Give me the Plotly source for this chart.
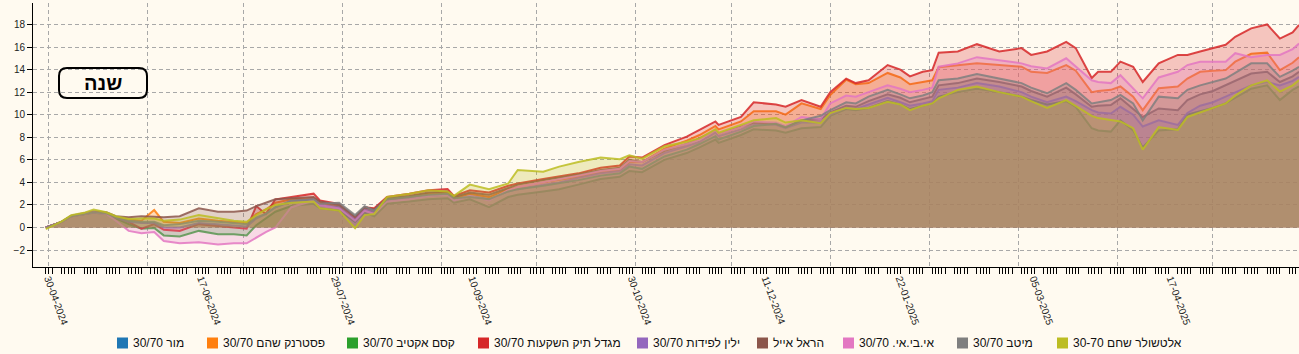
import pandas as pd
import plotly.graph_objects as go

dates = ["2024-04-30","2024-05-05","2024-05-08","2024-05-12","2024-05-15","2024-05-19","2024-05-22","2024-05-26","2024-05-30","2024-06-03",
"2024-06-06","2024-06-11","2024-06-17","2024-06-23","2024-06-28","2024-07-02","2024-07-05","2024-07-08","2024-07-11","2024-07-16",
"2024-07-23","2024-07-25","2024-07-31","2024-08-05","2024-08-08","2024-08-11","2024-08-15","2024-08-22","2024-08-28","2024-09-03",
"2024-09-05","2024-09-10","2024-09-16","2024-09-22","2024-09-25","2024-10-03","2024-10-08","2024-10-14","2024-10-21","2024-10-27",
"2024-10-30","2024-11-03","2024-11-10","2024-11-17","2024-11-21","2024-11-26","2024-11-27","2024-12-04","2024-12-08","2024-12-15",
"2024-12-18","2024-12-23","2024-12-29","2025-01-01","2025-01-06","2025-01-09","2025-01-13","2025-01-19","2025-01-23","2025-01-26",
"2025-01-30","2025-02-02","2025-02-04","2025-02-10","2025-02-16","2025-02-23","2025-03-02","2025-03-05","2025-03-10","2025-03-16",
"2025-03-19","2025-03-24","2025-03-26","2025-03-30","2025-04-02","2025-04-06","2025-04-09","2025-04-14","2025-04-20","2025-04-23",
"2025-04-27","2025-05-01","2025-05-05","2025-05-08","2025-05-13","2025-05-18","2025-05-22","2025-05-26","2025-05-28"]

pasternak = [0,0.5,1.0,1.2,1.35,1.25,0.95,0.7,0.6,1.55,
0.5,0.4,0.8,0.6,0.5,0.4,1.2,1.6,2.2,2.5,
2.6,2.2,1.9,0.8,1.7,1.4,2.5,2.8,3.0,3.1,
2.6,3.0,2.7,3.4,3.6,4.0,4.2,4.5,4.9,5.1,
5.8,5.8,7.0,7.7,8.2,9.0,8.7,9.4,10.3,10.3,
10.0,11.0,10.5,11.75,13.1,12.7,12.8,13.7,13.3,12.7,
12.9,13.05,14.2,14.4,14.55,14.4,14.25,13.8,13.7,14.4,
13.9,12.0,12.1,12.2,12.5,11.6,10.4,12.35,12.5,13.2,
13.8,13.9,13.95,14.7,15.4,15.5,13.95,14.6,15.1]

kesem = [0,0.5,1.0,1.15,1.3,1.2,0.8,0.3,-0.1,-0.05,
-0.7,-0.8,-0.3,-0.6,-0.6,-0.7,0.2,0.8,1.4,1.9,
2.1,1.7,1.5,0.5,1.3,1.0,2.1,2.3,2.5,2.6,
2.2,2.5,1.8,2.7,2.9,3.2,3.4,3.8,4.3,4.5,
5.0,4.9,6.0,6.6,7.1,7.8,7.5,8.2,8.7,8.6,
8.4,8.8,8.9,9.9,10.5,10.4,10.6,11.2,10.9,10.5,
10.8,11.0,11.6,12.0,12.3,12.0,11.6,11.3,10.9,11.2,
10.7,8.8,8.6,8.5,9.5,8.6,7.1,8.6,8.7,10.0,
10.3,10.6,11.0,11.5,12.3,12.6,11.3,12.2,12.5]

migdal = [0,0.5,1.0,1.2,1.35,1.25,0.9,0.5,-0.1,0.3,
-0.2,-0.3,0.3,0.1,0.0,-0.1,1.9,1.2,2.5,2.7,
3.0,2.4,2.1,0.9,1.8,1.7,2.7,3.0,3.3,3.4,
2.8,3.3,3.1,3.7,3.9,4.3,4.5,4.8,5.3,5.5,
6.3,6.2,7.3,8.05,8.65,9.4,9.1,9.8,11.1,10.9,
10.7,11.3,10.7,12.0,13.2,12.8,13.05,14.4,14.0,13.4,
13.8,13.95,15.5,15.6,16.25,15.6,15.9,15.3,15.6,16.45,
15.9,13.25,13.8,13.8,14.7,14.25,12.9,14.55,15.3,15.3,
15.6,15.9,16.2,16.9,17.65,18.0,16.75,17.3,17.95]

yelin = [0,0.5,1.0,1.2,1.35,1.2,0.85,0.5,0.4,0.4,
0.0,0.0,0.4,0.3,0.2,0.1,0.8,1.2,1.8,2.3,
2.5,2.0,1.8,0.7,1.6,1.4,2.4,2.6,2.8,2.9,
2.4,2.8,2.5,3.2,3.4,3.8,4.0,4.4,4.8,5.0,
5.6,5.5,6.6,7.2,7.6,8.4,8.1,8.7,9.2,9.1,
8.8,9.3,9.3,10.0,10.6,10.5,10.9,11.5,11.1,10.8,
11.0,11.2,12.2,12.4,12.8,12.5,12.0,11.6,11.1,11.6,
11.2,10.4,10.2,10.1,10.7,10.0,8.95,9.5,9.1,10.15,
10.8,11.1,11.6,12.0,12.6,12.9,12.6,13.0,13.35]

harel = [0,0.5,1.05,1.25,1.45,1.35,1.0,0.9,1.0,0.95,
0.9,1.0,1.7,1.4,1.4,1.5,1.9,2.2,2.5,2.6,
2.7,2.3,2.0,1.0,1.8,1.6,2.6,2.8,3.1,3.2,
2.7,3.1,2.9,3.5,3.8,4.2,4.4,4.7,5.1,5.3,
6.0,5.8,6.8,7.4,7.9,8.6,8.3,8.9,9.3,9.2,
8.9,9.5,9.6,10.2,10.8,10.7,11.2,11.8,11.5,11.1,
11.4,11.6,12.6,12.8,13.2,12.9,12.5,12.1,11.6,12.4,
11.8,10.7,10.8,10.85,11.45,10.5,9.8,10.55,10.4,11.3,
11.8,12.1,12.6,13.0,13.65,13.8,12.9,13.4,13.8]

ibi = [0,0.5,1.0,1.2,1.35,1.2,0.6,-0.3,-0.5,-0.4,
-1.2,-1.4,-1.3,-1.5,-1.4,-1.4,-0.9,-0.4,0.0,1.8,
2.4,2.0,1.7,0.6,1.5,1.2,2.3,2.5,2.8,2.9,
2.4,2.8,2.4,3.3,3.6,4.0,4.3,4.6,5.0,5.2,
5.9,5.8,6.9,7.4,7.8,8.6,8.3,8.9,9.4,9.3,
9.0,9.8,9.6,11.0,11.7,11.6,12.0,12.6,12.3,12.0,
12.2,12.4,14.25,14.55,15.1,14.8,14.55,14.3,14.1,15.0,
14.3,13.05,12.9,12.8,13.5,12.35,11.45,13.3,13.8,14.4,
14.7,14.7,14.7,15.45,15.1,15.3,15.3,15.8,16.3]

meitav = [0,0.5,1.0,1.2,1.35,1.25,0.9,0.6,0.5,0.5,
0.2,0.3,0.6,0.5,0.4,0.3,0.9,1.2,1.8,2.4,
2.5,2.1,2.2,1.1,1.9,1.5,2.5,2.7,2.9,3.0,
2.6,2.7,2.5,3.2,3.4,3.7,3.9,4.2,4.6,4.8,
5.4,5.2,6.3,6.9,7.4,8.1,7.8,8.5,9.0,9.2,
8.9,9.5,9.9,10.4,11.1,11.0,11.6,12.2,11.8,11.45,
11.7,12.0,13.05,13.2,13.6,13.2,12.8,12.4,11.9,12.8,
12.2,11.0,11.1,11.3,11.75,11.0,9.5,11.6,11.45,12.2,
12.6,12.9,13.2,13.7,14.55,14.55,13.35,13.9,14.25]

altshuler = [-0.15,0.55,1.1,1.3,1.6,1.35,1.0,0.75,0.8,0.8,
0.6,0.7,1.1,0.8,0.6,0.5,1.1,1.6,2.0,2.2,
2.3,1.7,1.5,-0.05,1.1,1.2,2.7,3.0,3.3,3.2,
2.8,3.8,3.4,3.9,5.1,4.95,5.4,5.8,6.2,6.05,
6.4,6.1,7.2,7.6,7.9,8.7,8.4,9.1,9.5,9.7,
9.3,9.5,9.25,10.15,10.6,10.5,10.6,11.15,10.9,10.4,
10.8,11.0,11.45,12.2,12.5,12.0,11.6,11.2,10.6,11.3,
10.8,9.9,9.7,9.5,9.4,8.8,6.9,8.9,8.65,9.8,
10.2,10.6,11.0,11.7,12.6,13.05,12.05,12.6,13.05]

names = ["מור 30/70", "פסטרנק שהם 30/70", "קסם אקטיב 30/70", "מגדל תיק השקעות 30/70",
         "ילין לפידות 30/70", "הראל אייל", "אי.בי.אי. 30/70", "מיטב 30/70", "אלטשולר שחם 30-70"]
colors = ["#1f77b4", "#ff7f0e", "#2ca02c", "#d62728", "#9467bd", "#8c564b", "#e377c2", "#7f7f7f", "#bcbd22"]
series = [None, pasternak, kesem, migdal, yelin, harel, ibi, meitav, altshuler]

label_dates = ["2024-04-30", "2024-06-17", "2024-07-29", "2024-09-10", "2024-10-30",
               "2024-12-11", "2025-01-22", "2025-03-05", "2025-04-17"]

trading_days = pd.bdate_range("2024-04-30", "2025-05-28", freq="C", weekmask="Sun Mon Tue Wed Thu")
tick_vals = sorted(set([d.strftime("%Y-%m-%d") for d in trading_days] + label_dates))
tick_text = [pd.Timestamp(d).strftime("%d-%m-%Y") if d in label_dates else "" for d in tick_vals]

# layout constants (pixels in the 1299x354 page)
ML, MT, PW, PH = 33, 3, 1266, 264
legend_swatch_px = [117, 207, 347, 478, 637, 757, 843, 957, 1057]
legend_y_px = 343


def px_x(px):
    return (px - ML) / PW


def px_y(py):
    return 1 - (py - MT) / PH


def rgba(hexc, a):
    h = hexc.lstrip("#")
    return "rgba(%d,%d,%d,%s)" % (int(h[0:2], 16), int(h[2:4], 16), int(h[4:6], 16), a)


fig = go.Figure()
for name, col, vals in zip(names, colors, series):
    if vals is None:
        continue
    fig.add_trace(go.Scatter(x=dates, y=vals, mode="lines", name=name, showlegend=False,
                             line=dict(color=rgba(col, 0.85), width=2),
                             fill="tozeroy", fillcolor=rgba(col, 0.25), hoverinfo="skip"))

# custom legend (swatch + label)
for name, col, sx in zip(names, colors, legend_swatch_px):
    fig.add_shape(type="rect", xref="paper", yref="paper",
                  x0=px_x(sx), x1=px_x(sx + 11), y0=px_y(legend_y_px + 5.5), y1=px_y(legend_y_px - 5.5),
                  line=dict(width=0), fillcolor=col)
    fig.add_annotation(text="\u202b" + name + "\u202c", xref="paper", yref="paper",
                       x=px_x(sx + 14), y=px_y(legend_y_px), xanchor="left", yanchor="middle",
                       showarrow=False, font=dict(size=12, color="#111"))

# rounded "שנה" box
x0, x1, y0, y1 = px_x(59), px_x(147), px_y(98), px_y(68)
rx, ry = 8 / PW, 8 / PH
path = (f"M {x0+rx},{y1} L {x1-rx},{y1} Q {x1},{y1} {x1},{y1-ry} L {x1},{y0+ry} "
        f"Q {x1},{y0} {x1-rx},{y0} L {x0+rx},{y0} Q {x0},{y0} {x0},{y0+ry} "
        f"L {x0},{y1-ry} Q {x0},{y1} {x0+rx},{y1} Z")
fig.add_shape(type="path", path=path, xref="paper", yref="paper",
              line=dict(color="black", width=2), fillcolor="rgba(0,0,0,0)")
fig.add_annotation(text="<b>שנה</b>", x=(x0 + x1) / 2, y=(y0 + y1) / 2, xref="paper", yref="paper",
                   xanchor="center", yanchor="middle",
                   showarrow=False, font=dict(size=20, color="black", family="Liberation Sans"))

grid = dict(gridcolor="#a8a8a8", griddash="4px,3px", gridwidth=1)

fig.update_layout(
    width=1299, height=354,
    margin=dict(l=ML, r=1299 - ML - PW, t=MT, b=354 - MT - PH, autoexpand=False),
    paper_bgcolor="#fffaf0", plot_bgcolor="#fffaf0",
    font=dict(family="Liberation Sans", size=10, color="#222"),
    showlegend=False,
    xaxis=dict(type="date", range=["2024-04-26", "2025-05-28"],
               tickmode="array", tickvals=tick_vals, ticktext=tick_text, tickangle=70,
               ticks="outside", ticklen=6, tickcolor="black", tickwidth=1,
               ticklabelstandoff=-5, ticklabelshift=3,
               showline=True, linecolor="black", linewidth=1, showgrid=False, zeroline=False,
               tickfont=dict(size=10, color="#222"),
               minor=dict(dtick="M1", tick0="2024-05-01", showgrid=True, ticklen=0, **grid)),
    yaxis=dict(range=[-3.5, 19.9], dtick=2, tick0=0, ticks="outside", ticklen=5, tickcolor="black",
               showline=True, linecolor="black", linewidth=1, showgrid=True, zeroline=False,
               tickfont=dict(size=10, color="#222"), **grid),
)

fig.write_html("out.html")
